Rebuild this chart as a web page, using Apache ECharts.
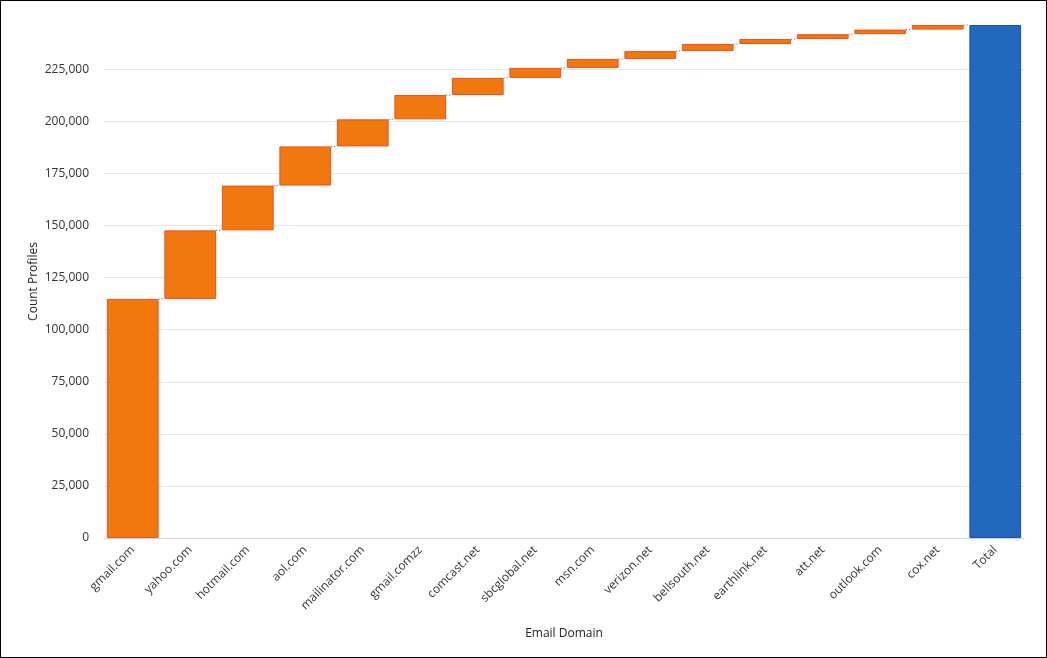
<!DOCTYPE html>
<html><head><meta charset="utf-8">
<script src="https://cdn.jsdelivr.net/npm/echarts@6/dist/echarts.min.js"></script>
<style>
html,body{margin:0;padding:0;background:#fff;}
#c{position:absolute;left:0;top:0;width:1045px;height:656px;border:1px solid #000;}
</style></head><body>
<div id="c"></div>
<script>
const categories = ['gmail.com','yahoo.com','hotmail.com','aol.com','mailinator.com','gmail.comzz','comcast.net','sbcglobal.net','msn.com','verizon.net','bellsouth.net','earthlink.net','att.net','outlook.com','cox.net','Total'];
const increments = [114800,32900,21500,18800,13000,11700,8200,4800,4300,3800,3400,2400,2300,2200,2200];
const yTicks = [0,25000,50000,75000,100000,125000,150000,175000,200000,225000];

const total = increments.reduce((a,b)=>a+b,0);
const bases = [], values = [], cumul = [];
let run = 0;
increments.forEach(v => { bases.push(run); values.push(v); run += v; cumul.push(run); });
bases.push(0); values.push(total); cumul.push(total);

const orangeStyle = {color:'#F0780F', borderColor:'#F0501E', borderWidth:1};
const blueStyle = {color:'#2169BD', borderColor:'#2148C0', borderWidth:1};

const chart = echarts.init(document.getElementById('c'));
chart.setOption({
  animation:false,
  grid:{left:103, right:22, top:24, bottom:119, containLabel:false},
  xAxis:{
    type:'category', data:categories,
    name:'Email Domain', nameLocation:'middle', nameGap:90,
    nameTextStyle:{fontFamily:'Open Sans', fontSize:12, color:'#222'},
    axisLine:{lineStyle:{color:'#CCD6EB'}},
    axisTick:{show:false},
    axisLabel:{rotate:45, interval:0, fontFamily:'Open Sans', fontSize:12, color:'#333', margin:10}
  },
  yAxis:{
    type:'value', min:0, max:total, interval:25000,
    name:'Count Profiles', nameLocation:'middle', nameGap:64, nameMoveOverlap:false,
    nameTextStyle:{fontFamily:'Open Sans', fontSize:12, color:'#222'},
    axisLine:{show:false}, axisTick:{show:false},
    splitLine:{showMaxLine:false, lineStyle:{color:'#E6E6E6'}},
    axisLabel:{fontFamily:'Open Sans', fontSize:12, color:'#333', margin:15,
      showMaxLabel:false,
      formatter: v => yTicks.includes(v) ? v.toLocaleString('en-US') : ''}
  },
  series:[
    {type:'bar', stack:'w', data:bases, itemStyle:{color:'transparent'}, barCategoryGap:'10%', silent:true},
    {type:'bar', stack:'w', barCategoryGap:'10%',
      data: values.map((v,i)=>({value:v, itemStyle: i===values.length-1 ? blueStyle : orangeStyle}))},
    {type:'custom', z:5, silent:true,
      data: cumul.slice(0,-1).map((v,i)=>[i,v]),
      renderItem:(params, api)=>{
        const i = api.value(0), v = api.value(1);
        const p1 = api.coord([i, v]);
        const p2 = api.coord([i+1, v]);
        const w = api.size([1,0])[0]*0.9/2;
        return {type:'line', shape:{x1:p1[0]+w, y1:p1[1], x2:p2[0]-w, y2:p2[1]},
          style:{stroke:'#555', lineWidth:1, lineDash:[1,2]}};
      }}
  ]
});
</script>
</body></html>
